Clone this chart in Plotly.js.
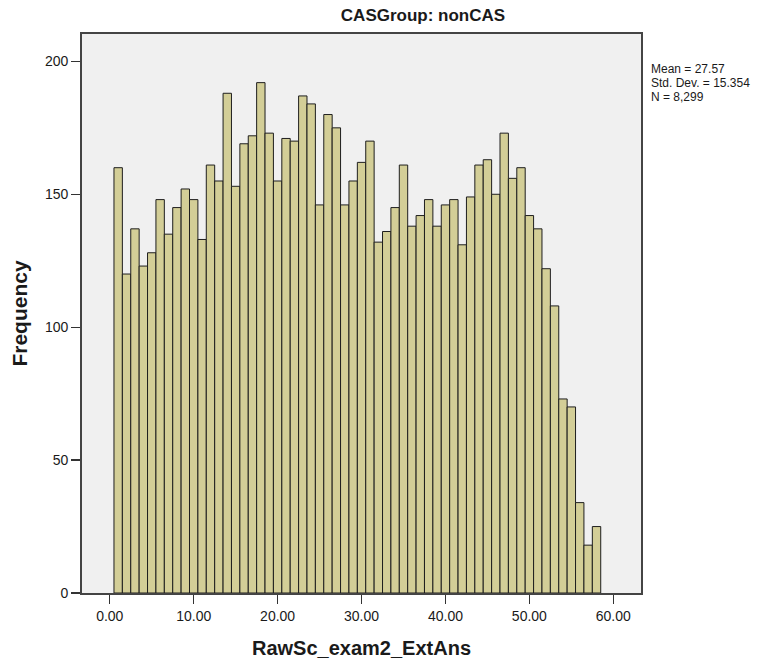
<!DOCTYPE html>
<html>
<head>
<meta charset="utf-8">
<script src="https://cdn.plot.ly/plotly-3.0.1.min.js"></script>
<style>
html, body { margin: 0; padding: 0; background: #ffffff; }
#chart { width: 777px; height: 664px; }
</style>
</head>
<body>
<div id="chart"></div>
<script>
// ---- data ----
const chartTitle = "CASGroup: nonCAS";
const xAxisTitle = "RawSc_exam2_ExtAns";
const yAxisTitle = "Frequency";
const binCenters = [1, 2, 3, 4, 5, 6, 7, 8, 9, 10,
  11, 12, 13, 14, 15, 16, 17, 18, 19, 20,
  21, 22, 23, 24, 25, 26, 27, 28, 29, 30,
  31, 32, 33, 34, 35, 36, 37, 38, 39, 40,
  41, 42, 43, 44, 45, 46, 47, 48, 49, 50,
  51, 52, 53, 54, 55, 56, 57, 58];
const frequencies = [160, 120, 137, 123, 128, 148, 135, 145, 152, 148,
  133, 161, 155, 188, 153, 169, 172, 192, 173, 155,
  171, 170, 187, 184, 146, 180, 175, 146, 155, 162,
  170, 132, 136, 145, 161, 138, 142, 148, 138, 146,
  148, 131, 149, 161, 163, 150, 173, 156, 160, 142,
  137, 122, 108, 73, 70, 34, 18, 25];
const xTickValues = [0, 10, 20, 30, 40, 50, 60];
const yTickValues = [0, 50, 100, 150, 200];
const statsLines = ["Mean = 27.57", "Std. Dev. = 15.354", "N = 8,299"];

// ---- layout geometry ----
const W = 777, H = 664;
const plotL = 81.5, plotR = 641, plotT = 34.3, plotB = 592.7;
const px2paperX = x => (x - plotL) / (plotR - plotL);
const px2paperY = y => (plotB - y) / (plotB - plotT);

const trace = {
  type: "bar",
  x: binCenters,
  y: frequencies,
  width: 1,
  marker: { color: "#d3ce97", line: { color: "#1e1e1e", width: 1 } },
  hoverinfo: "x+y",
  showlegend: false
};

const statsY = [69.5, 83.5, 97.5];
const annotations = statsLines.map((t, i) => ({
  text: t,
  xref: "paper", yref: "paper",
  x: px2paperX(650), y: px2paperY(statsY[i]),
  xanchor: "left", yanchor: "middle",
  showarrow: false,
  borderpad: 0,
  font: { family: "Liberation Sans, Arial, sans-serif", size: 12, color: "#1a1a1a" }
}));

const layout = {
  width: W, height: H,
  margin: { l: plotL, r: W - plotR, t: plotT, b: H - plotB, pad: 0 },
  paper_bgcolor: "#ffffff",
  plot_bgcolor: "#f0f0f0",
  font: { family: "Liberation Sans, Arial, sans-serif", color: "#1a1a1a" },
  title: {
    text: "<b>" + chartTitle + "</b>",
    x: 423 / W, xref: "container", xanchor: "center",
    y: 1 - 15 / H, yref: "container", yanchor: "middle",
    font: { family: "Liberation Sans, Arial, sans-serif", size: 17, color: "#1a1a1a" }
  },
  bargap: 0,
  xaxis: {
    range: [-3.31, 63.30],
    tickvals: xTickValues,
    tickformat: ".2f",
    ticks: "outside", ticklen: 9, tickwidth: 1.3, tickcolor: "#333333",
    tickfont: { size: 14, color: "#1a1a1a" },
    showgrid: false, zeroline: false,
    showline: true, linecolor: "#444444", linewidth: 1.8, mirror: true,
    title: { text: "<b>" + xAxisTitle + "</b>", standoff: 18,
             font: { size: 20, color: "#1a1a1a" } }
  },
  yaxis: {
    range: [0, 210.3],
    tickvals: yTickValues,
    ticks: "outside", ticklen: 9, tickwidth: 1.3, tickcolor: "#333333",
    tickfont: { size: 14, color: "#1a1a1a" },
    showgrid: false, zeroline: false,
    showline: true, linecolor: "#444444", linewidth: 1.8, mirror: true,
    title: { text: "<b>" + yAxisTitle + "</b>", standoff: 12,
             font: { size: 21, color: "#1a1a1a" } }
  },
  annotations: annotations
};

Plotly.newPlot("chart", [trace], layout, { displayModeBar: false, staticPlot: true });
</script>
</body>
</html>
